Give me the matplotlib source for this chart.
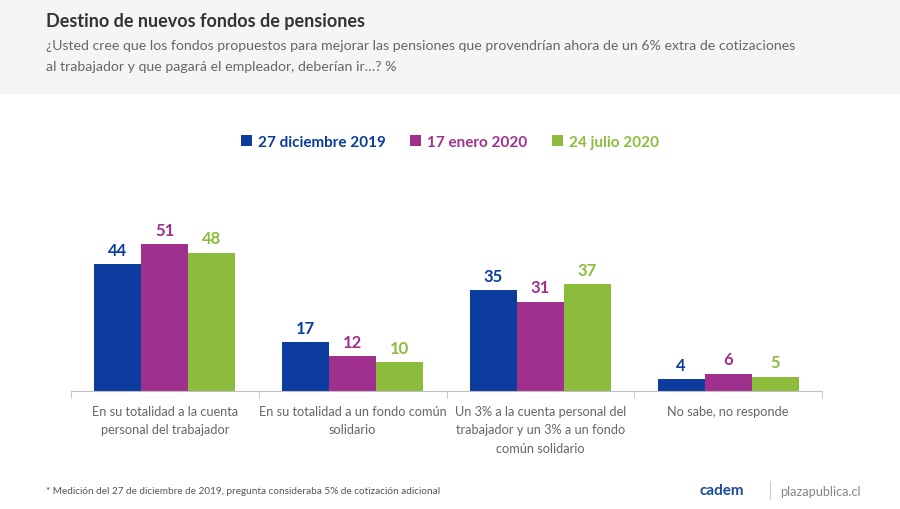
import numpy as np
import matplotlib.pyplot as plt
from matplotlib.patches import Rectangle

plt.rcParams['font.family'] = ['Lato', 'DejaVu Sans']

categories = ['En su totalidad a la cuenta\npersonal del trabajador',
              'En su totalidad a un fondo común\nsolidario',
              'Un 3% a la cuenta personal del\ntrabajador y un 3% a un fondo\ncomún solidario',
              'No sabe, no responde']
series_names = ['27 diciembre 2019', '17 enero 2020', '24 julio 2020']
dic_2019 = [44, 17, 35, 4]
ene_2020 = [51, 12, 31, 6]
jul_2020 = [48, 10, 37, 5]
colors = ['#0b3c9e', '#a0308e', '#8dbb3c']

fig = plt.figure(figsize=(9, 5.1), dpi=100)
fig.patch.set_facecolor('white')

# gray header band
fig.add_artist(Rectangle((0, 1 - 95 / 510), 1, 95 / 510, transform=fig.transFigure,
                         facecolor='#f4f5f7', edgecolor='none', zorder=0))
fig.text(46 / 900, 1 - 22 / 510, 'Destino de nuevos fondos de pensiones',
         fontsize=13, fontweight='bold', color='#333333', va='center')
fig.text(46 / 900, 1 - 46 / 510,
         '¿Usted cree que los fondos propuestos para mejorar las pensiones que provendrían ahora de un 6% extra de cotizaciones',
         fontsize=10.2, color='#666666', va='center')
fig.text(46 / 900, 1 - 67 / 510,
         'al trabajador y que pagará el empleador, deberían ir…? %',
         fontsize=10.2, color='#666666', va='center')

ax = fig.add_axes([71 / 900, 118 / 510, 751 / 900, 172.8 / 510])
x = np.arange(len(categories))
w = 0.25
for i, (vals, name, c) in enumerate(zip([dic_2019, ene_2020, jul_2020], series_names, colors)):
    pos = x + (i - 1) * w
    ax.bar(pos, vals, w, color=c, label=name)
    for p, v in zip(pos, vals):
        ax.text(p, v + 2.2, str(v), ha='center', va='bottom', fontsize=12,
                fontweight='bold', color=c)

ax.set_xlim(-0.5, len(categories) - 0.5)
ax.set_ylim(0, 60)
ax.set_yticks([])
ax.set_xticks(x)
ax.set_xticklabels(categories, fontsize=9.2, color='#666666', linespacing=1.65)
ax.tick_params(axis='x', length=0, pad=10)
ax.set_xticks(np.arange(-0.5, len(categories)), minor=True)
ax.tick_params(axis='x', which='minor', length=5, color='#bfbfbf', direction='out')
for s in ['top', 'right', 'left']:
    ax.spines[s].set_visible(False)
ax.spines['bottom'].set_color('#bfbfbf')

leg = fig.legend(loc='center', bbox_to_anchor=(450 / 900, 1 - 143 / 510), ncol=3, frameon=False,
                 handlelength=0.7, handleheight=0.7, handletextpad=0.4, columnspacing=1.6,
                 prop={'size': 11, 'weight': 'bold'})
for t, c in zip(leg.get_texts(), colors):
    t.set_color(c)

fig.text(46 / 900, 1 - 492 / 510,
         '* Medición del 27 de diciembre de 2019, pregunta consideraba 5% de cotización adicional',
         fontsize=7.2, color='#555555', va='center')
fig.text(700 / 900, 1 - 491 / 510, 'cadem', fontsize=11, fontweight='bold', color='#1a4aa0', va='center')
fig.add_artist(plt.Line2D([770 / 900, 770 / 900], [1 - 482 / 510, 1 - 500 / 510],
                          transform=fig.transFigure, color='#cccccc', lw=0.8))
fig.text(780 / 900, 1 - 492 / 510, 'plazapublica.cl', fontsize=9.2, color='#888888', va='center')

fig.savefig('out.png', dpi=100)
